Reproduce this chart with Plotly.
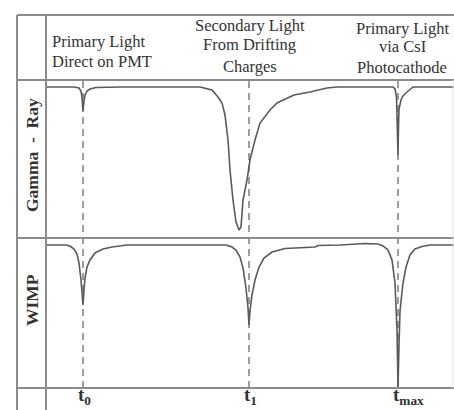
import plotly.graph_objects as go

W, H = 454, 410

# Event times (ns after first scintillation) and their axis labels
event_times = [0, 166, 315]
event_labels = ["t<sub>0</sub>", "t<sub>1</sub>", "t<sub>max</sub>"]

# Gamma-ray event: PMT output (arbitrary units, negative-going pulses)
gamma_t = [-36, -9, -4, -2, -1, 0, 1, 2, 4, 7, 13, 37, 117,
           122, 129, 135, 139, 142, 145, 147, 150, 153, 155, 156, 158, 160,
           164, 167, 172, 177, 187, 194, 211, 227, 244, 254,
           310, 312, 313.5, 314.5, 315, 315.5, 316, 318, 320, 324, 327, 330, 371]
gamma_a = [0, 0, -1, -4, -10, -24, -14, -8, -4, -2, -0.5, 0, 0,
           -1, -3, -10, -16, -28, -53, -83, -113, -135, -142, -143, -140, -113,
           -93, -73, -53, -36, -23, -16, -8, -5, -1, 0,
           0, -2, -10, -40, -68, -40, -22, -13, -9, -5, -2, 0, 0]

# WIMP event: PMT output (arbitrary units)
wimp_t = [-36, -17, -13, -9, -6, -4, -2, -1, 0, 1, 2, 4, 7, 12, 20, 29, 44,
          143, 149, 153, 157, 160, 163, 165, 166, 167, 169, 172, 176, 181, 189,
          202, 217, 232, 235, 257, 282, 295,
          300, 305, 309, 312, 314, 315, 316, 317, 320, 323, 327, 332, 339, 347, 371]
wimp_a = [0, 0, -1, -4, -9, -18, -35, -48, -60, -45, -33, -22, -15, -8, -4, -2, 0,
          0, -2, -5, -12, -23, -43, -63, -80, -66, -50, -35, -22, -13, -7,
          -3.5, -2.5, -2, -0.5, 0, 1.5, 1,
          -1, -5, -15, -38, -85, -142, -100, -66, -38, -22, -10, -4, -1.5, 0, 0]

row_titles = ["Gamma  -  Ray", "WIMP"]
header_cols = [
    ["Primary Light", "Direct on PMT"],
    ["Secondary Light", "From Drifting", "Charges"],
    ["Primary Light", "via CsI", "Photocathode"],
]


def py(y_px):
    """Pixel row (from top) to paper fraction."""
    return 1 - y_px / H


# table grid, in pixels
X_LEFT, X_COL = 17, 46
Y_TOP, Y_HEAD, Y_MID, Y_BOT = 15, 80, 238, 388

LINE = "#8c8c8c"
TRACE = "#5a5a5a"
SERIF = "Liberation Serif, Times New Roman, serif"

fig = go.Figure()
fig.add_trace(go.Scatter(x=gamma_t, y=gamma_a, mode="lines",
                         line=dict(color=TRACE, width=1.6),
                         xaxis="x", yaxis="y", showlegend=False,
                         hoverinfo="skip"))
fig.add_trace(go.Scatter(x=wimp_t, y=wimp_a, mode="lines",
                         line=dict(color=TRACE, width=1.6),
                         xaxis="x", yaxis="y2", showlegend=False,
                         hoverinfo="skip"))

shapes = []
# horizontal table rules
for y in (Y_TOP, Y_HEAD, Y_MID, Y_BOT):
    shapes.append(dict(type="line", xref="paper", yref="paper",
                       x0=X_LEFT / W, x1=1, y0=py(y), y1=py(y),
                       line=dict(color=LINE, width=2)))
# vertical table rules
for x in (X_LEFT, X_COL):
    shapes.append(dict(type="line", xref="paper", yref="paper",
                       x0=x / W, x1=x / W, y0=0, y1=py(Y_TOP),
                       line=dict(color=LINE, width=2)))
shapes.append(dict(type="line", xref="paper", yref="paper",
                   x0=453 / W, x1=453 / W, y0=py(Y_BOT), y1=py(Y_HEAD),
                   line=dict(color="#e4e4e4", width=1)))
# dashed markers at the event times
for t in event_times:
    shapes.append(dict(type="line", xref="x", yref="paper",
                       x0=t, x1=t, y0=py(Y_BOT), y1=py(Y_HEAD),
                       line=dict(color="#6a6a6a", width=1.3, dash="7px,5px"),
                       layer="below"))

annotations = []
# header texts
head_font = dict(family=SERIF, size=16.5, color="#333333")
col_specs = [
    (X_COL + 4, "left", [42, 61]),
    (249.5, "center", [25, 45, 66]),
    (402, "center", [28, 47, 67]),
]
for lines, (xp, anchor, ys) in zip(header_cols, col_specs):
    for txt, yc in zip(lines, ys):
        annotations.append(dict(text=txt, xref="paper", yref="paper",
                                x=xp / W, y=py(yc), xanchor=anchor,
                                yanchor="middle", showarrow=False,
                                font=head_font))
# row titles
for txt, yc in zip(row_titles, [155, 300]):
    annotations.append(dict(text="<b>" + txt + "</b>", xref="paper",
                            yref="paper", x=32 / W, y=py(yc),
                            xanchor="center", yanchor="middle",
                            textangle=-90, showarrow=False,
                            font=dict(family=SERIF, size=17.5, color="#333333")))
# event time labels along the bottom row
for t, lab in zip(event_times, event_labels):
    annotations.append(dict(text="<b>" + lab + "</b>", xref="x", yref="paper",
                            x=t, y=0, xanchor="left", xshift=-7,
                            yanchor="bottom", showarrow=False,
                            font=dict(family=SERIF, size=19, color="#333333")))

fig.update_layout(
    width=W, height=H,
    margin=dict(l=0, r=0, t=0, b=0),
    paper_bgcolor="white", plot_bgcolor="white",
    xaxis=dict(domain=[0, 1], range=[-83, 371], visible=False,
               fixedrange=True),
    yaxis=dict(domain=[py(Y_MID), py(Y_HEAD)], range=[-151, 7],
               visible=False, anchor="x"),
    yaxis2=dict(domain=[py(Y_BOT), py(Y_MID)], range=[-143, 7],
                visible=False, anchor="x"),
    shapes=shapes,
    annotations=annotations,
)

fig.write_html("out.html")
